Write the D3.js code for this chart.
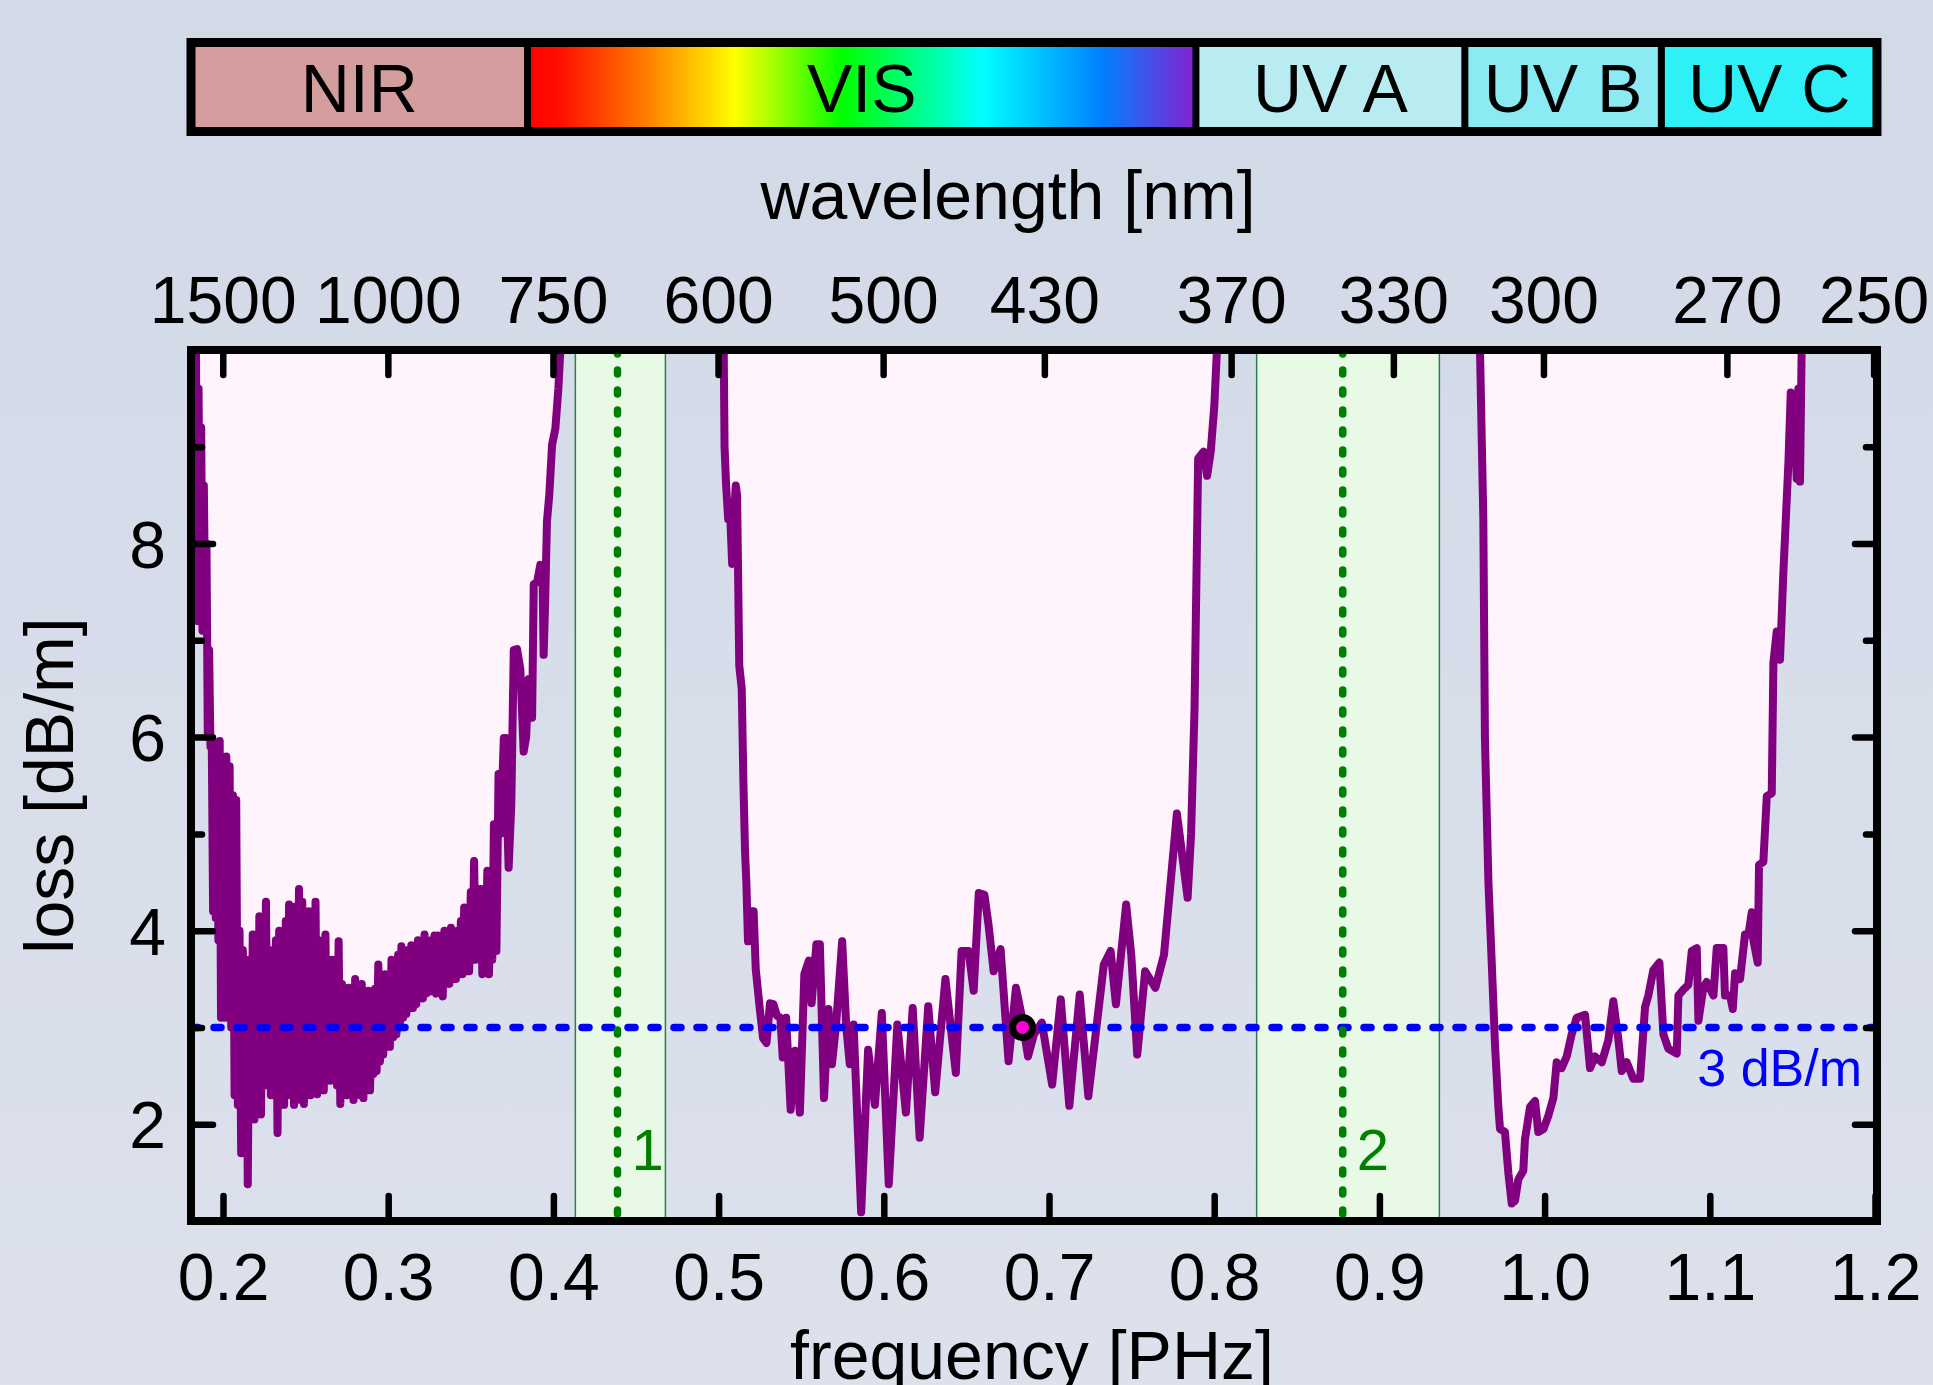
<!DOCTYPE html>
<html>
<head>
<meta charset="utf-8">
<script src="https://cdn.jsdelivr.net/npm/d3@7"></script>
<style>
html, body { margin: 0; padding: 0; }
body { width: 1933px; height: 1385px; overflow: hidden; }
</style>
</head>
<body>
<div id="viz"></div>
<script>
// loss spectrum, three transmission bands: [frequency PHz, loss dB/m]
var nirBand = [
 [0.1820,10.6],[0.1828,7.8],[0.1836,10.2],[0.1844,7.2],[0.1852,9.6],[0.1860,7.5],
 [0.1868,9.2],[0.1876,7.1],[0.1884,8.6],[0.1892,7.3],[0.1900,8.0],[0.1908,6.0],
 [0.1916,6.9],[0.1924,5.9],[0.1932,5.96],[0.1940,4.2],[0.1948,5.9],[0.1956,4.13],
 [0.1964,5.8],[0.1972,3.9],[0.1980,5.96],[0.1988,3.1],
 [0.200,5.0],[0.201,3.1],[0.202,5.8],[0.203,3.2],[0.204,5.7],[0.205,3.0],
 [0.206,5.4],[0.207,2.3],[0.208,5.35],[0.209,2.2],[0.210,4.0],[0.211,1.7],
 [0.212,3.8],[0.213,2.5],[0.214,3.7],[0.215,1.38],[0.216,3.6],[0.217,2.1],
 [0.218,3.96],[0.219,2.05],[0.220,3.9],[0.221,2.3],[0.222,4.15],[0.223,2.1],
 [0.224,3.9],[0.225,2.5],[0.226,4.3],[0.227,2.4],[0.228,3.8],[0.229,2.3],
 [0.230,3.7],[0.231,2.45],[0.232,3.9],[0.233,1.91],[0.234,4.0],[0.235,2.3],
 [0.236,3.9],[0.237,2.2],[0.238,4.1],[0.239,2.4],[0.240,4.27],[0.241,2.3],
 [0.242,4.0],[0.243,2.2],[0.244,4.25],[0.245,2.45],[0.246,4.43],[0.247,2.25],
 [0.248,4.3],[0.249,2.21],[0.250,4.1],[0.251,2.4],[0.252,4.2],[0.253,2.3],
 [0.254,4.0],[0.255,2.5],[0.256,4.3],[0.257,2.31],[0.258,3.9],[0.259,2.45],
 [0.260,3.8],[0.261,2.35],[0.262,3.96],[0.263,2.5],[0.264,3.6],[0.265,2.45],
 [0.266,3.7],[0.267,2.5],[0.268,3.5],[0.269,2.4],[0.270,3.89],[0.271,2.21],
 [0.272,3.45],[0.273,2.45],[0.274,3.3],[0.275,2.3],[0.276,3.41],[0.277,2.35],
 [0.278,3.3],[0.279,2.25],[0.280,3.5],[0.281,2.4],[0.282,3.35],[0.283,2.3],
 [0.284,3.45],[0.285,2.27],[0.286,3.3],[0.287,2.4],[0.288,3.38],[0.289,2.35],
 [0.290,3.25],[0.291,2.52],[0.292,3.4],[0.293,2.55],[0.294,3.65],[0.295,2.65],
 [0.296,3.4],[0.297,2.72],[0.298,3.55],[0.299,2.8],[0.300,3.5],[0.301,2.8],
 [0.302,3.7],[0.303,2.9],[0.304,3.6],[0.305,2.93],[0.306,3.75],[0.307,3.0],
 [0.308,3.84],[0.309,3.1],[0.310,3.7],[0.311,3.14],[0.312,3.8],[0.313,3.2],
 [0.314,3.85],[0.315,3.2],[0.316,3.7],[0.317,3.24],[0.318,3.9],[0.319,3.3],
 [0.320,3.85],[0.321,3.3],[0.322,3.96],[0.323,3.35],[0.324,3.85],[0.325,3.37],
 [0.326,3.9],[0.327,3.4],[0.328,3.95],[0.329,3.35],[0.330,3.95],[0.331,3.4],
 [0.332,3.9],[0.333,3.32],[0.334,4.0],[0.335,3.45],[0.336,3.95],[0.337,3.45],
 [0.338,4.03],[0.339,3.5],[0.340,3.95],[0.341,3.5],[0.342,4.0],[0.343,3.55],
 [0.344,4.1],[0.345,3.55],[0.346,4.24],[0.347,3.6],[0.348,4.1],[0.349,3.58],
 [0.350,4.4],[0.351,3.7],[0.352,4.72],[0.353,3.7],[0.354,4.3],[0.355,3.75],
 [0.356,4.43],[0.357,3.55],[0.358,4.1],[0.359,3.6],[0.360,4.62],[0.361,3.55],
 [0.362,4.5],[0.363,3.7],[0.364,5.1],[0.3655,3.79],
 [0.3668,5.62],[0.3680,5.0],[0.3692,5.6],[0.3700,5.99],[0.3712,5.99],[0.3720,5.2],
 [0.3729,4.65],[0.3745,5.3],[0.3760,6.9],[0.3780,6.91],[0.3800,6.7],[0.3820,5.85],
 [0.3835,6.0],[0.3850,6.6],[0.3860,6.6],[0.3871,6.2],[0.3881,7.58],[0.3901,7.6],
 [0.3921,7.78],[0.3935,7.6],[0.3941,6.85],[0.3950,7.4],[0.3961,8.23],[0.3975,8.5],
 [0.3992,9.02],[0.4012,9.19],[0.4030,9.6],[0.4045,10.1],[0.4065,10.6]
];

var visBand = [
 [0.5028,10.6],[0.5036,9.0],[0.5045,8.62],[0.5058,8.25],[0.5070,8.3],[0.5082,7.79],
 [0.5094,8.3],[0.5104,8.6],[0.5112,8.5],[0.5125,6.74],[0.5140,6.5],[0.5150,5.55],
 [0.5160,4.82],[0.5168,4.5],[0.5178,3.89],[0.5195,4.2],[0.5212,4.2],[0.5225,3.6],
 [0.5249,3.20],[0.5269,2.89],[0.5290,2.84],[0.5311,3.25],[0.5332,3.24],[0.5353,3.12],
 [0.5374,3.10],[0.5388,2.69],[0.5409,3.10],[0.5436,2.15],[0.5463,2.76],[0.5492,2.12],
 [0.5519,3.55],[0.5546,3.69],[0.5563,3.25],[0.5592,3.86],[0.5613,3.86],[0.5638,2.27],
 [0.5665,3.19],[0.5686,2.62],[0.5711,3.03],[0.5748,3.89],[0.5773,3.00],[0.5794,2.62],
 [0.5817,3.03],[0.5863,1.09],[0.5905,2.77],[0.5946,2.20],[0.5988,3.15],[0.6030,1.38],
 [0.6082,3.03],[0.6134,2.12],[0.6175,3.20],[0.6217,1.86],[0.6269,3.22],[0.6311,2.33],
 [0.6373,3.50],[0.6436,2.53],[0.6471,3.79],[0.6513,3.79],[0.6544,3.38],[0.6575,4.39],
 [0.6609,4.37],[0.6634,4.06],[0.6665,3.58],[0.6707,3.81],[0.6755,2.65],[0.6800,3.41],
 [0.6832,3.14],[0.6873,2.70],[0.6909,2.93],[0.6957,3.05],[0.7019,2.41],[0.7071,3.29],
 [0.7123,2.19],[0.7186,3.34],[0.7238,2.29],[0.7332,3.65],[0.7373,3.79],[0.7405,3.24],
 [0.7467,4.27],[0.7498,3.75],[0.7534,2.72],[0.7582,3.58],[0.7644,3.41],[0.7696,3.75],
 [0.7748,4.72],[0.7774,5.21],[0.7790,5.0],[0.7839,4.34],[0.7860,5.0],[0.7881,6.3],
 [0.7903,8.88],[0.7936,8.95],[0.7957,8.7],[0.7979,8.95],[0.8001,9.43],[0.8022,10.2],
 [0.8040,10.8]
];

var uvBand = [
 [0.9595,10.6],[0.9609,9.99],[0.9629,8.26],[0.9639,5.97],[0.9660,4.5],[0.9680,3.67],
 [0.9700,2.81],[0.9720,2.18],[0.9730,1.95],[0.9760,1.92],[0.9781,1.49],[0.9801,1.18],
 [0.9821,1.21],[0.9841,1.43],[0.9871,1.52],[0.9881,1.84],[0.9912,2.18],[0.9942,2.24],
 [0.9962,1.92],[0.9993,1.95],[1.0023,2.09],[1.0053,2.27],[1.0073,2.64],[1.0103,2.58],
 [1.0134,2.70],[1.0164,2.93],[1.0194,3.10],[1.0245,3.13],[1.0275,2.58],[1.0305,2.70],
 [1.0346,2.64],[1.0386,2.87],[1.0416,3.27],[1.0447,2.87],[1.0467,2.55],[1.0497,2.64],
 [1.0537,2.47],[1.0578,2.47],[1.0608,3.21],[1.0628,3.33],[1.0658,3.59],[1.0695,3.67],
 [1.0719,2.93],[1.0749,2.78],[1.0800,2.73],[1.0810,3.33],[1.0840,3.39],[1.0870,3.44],
 [1.0891,3.79],[1.0921,3.82],[1.0931,3.07],[1.0961,3.41],[1.0981,3.47],[1.1022,3.33],
 [1.1042,3.82],[1.1082,3.82],[1.1092,3.33],[1.1123,3.33],[1.1139,3.19],[1.1153,3.56],
 [1.1183,3.50],[1.1213,3.96],[1.1234,3.96],[1.1254,4.19],[1.1264,3.9],[1.1290,3.67],
 [1.1298,4.68],[1.1324,4.71],[1.1345,5.39],[1.1375,5.42],[1.1385,6.77],[1.1405,7.09],
 [1.1425,6.80],[1.1445,7.69],[1.1476,8.84],[1.1490,9.56],[1.1500,9.0],[1.1510,9.5],
 [1.1526,8.67],[1.1536,9.6],[1.1546,8.64],[1.1556,10.0],[1.1566,10.6]
];

// pump / pulse windows (frequency PHz)
var windows = [[0.4133, 0.4678], [0.8257, 0.9363]];
var windowCenters = [0.4388, 0.8778];
var windowLabels = ["1", "2"];

var lossLimit = 3;
var marker = [0.684, 3.0];

// axis ticks
var freqTicks = [0.2, 0.3, 0.4, 0.5, 0.6, 0.7, 0.8, 0.9, 1.0, 1.1, 1.2];
var wavelengthTicks = [1500, 1000, 750, 600, 500, 430, 370, 330, 300, 270, 250];
var lossTicks = [2, 3, 4, 5, 6, 7, 8, 9];

// spectral regions bar
var regionNames = ["NIR", "VIS", "UV A", "UV B", "UV C"];
var regionEdgesNm = [780, 380, 315, 280];
var regionColors = ["#d49e9e", "url(#visGrad)", "#b8ecf0", "#8ceaf2", "#2ef0f6"];
var visStops = [[0, "#ff0000"], [0.05, "#ff1000"], [0.18, "#ff8000"], [0.31, "#ffff00"],
  [0.47, "#00ff00"], [0.68, "#00ffff"], [0.86, "#0080ff"], [1, "#8420d0"]];

var C = 299.792458; // nm * PHz
var FONT = '"Liberation Sans", Arial, sans-serif';

var w = 1933, h = 1385;
var pLeft = 191, pRight = 1877, pTop = 350, pBottom = 1221;

var svg = d3.select("#viz").append("svg")
    .attr("width", w)
    .attr("height", h);

var defs = svg.append("defs");
var bg = defs.append("linearGradient").attr("id", "bgGrad")
    .attr("x1", 0).attr("y1", 0).attr("x2", 0).attr("y2", 1);
bg.append("stop").attr("offset", "0%").attr("stop-color", "#d2d9e7");
bg.append("stop").attr("offset", "100%").attr("stop-color", "#dce1ec");

var vg = defs.append("linearGradient").attr("id", "visGrad")
    .attr("x1", 0).attr("y1", 0).attr("x2", 1).attr("y2", 0);
visStops.forEach(function(s) {
  vg.append("stop").attr("offset", s[0]).attr("stop-color", s[1]);
});

defs.append("clipPath").attr("id", "plotClip")
  .append("rect")
    .attr("x", pLeft).attr("y", pTop)
    .attr("width", pRight - pLeft).attr("height", pBottom - pTop);

svg.append("rect").attr("width", w).attr("height", h).attr("fill", "url(#bgGrad)");

var x = d3.scaleLinear().domain([0.2, 1.2]).range([223, 1875]);
var y = d3.scaleLinear().domain([1, 10]).range([1221, 350]);

var plot = svg.append("g").attr("clip-path", "url(#plotClip)");

// green windows
plot.selectAll(".win").data(windows).enter().append("rect")
    .attr("class", "win")
    .attr("x", function(d) { return x(d[0]); })
    .attr("y", pTop)
    .attr("width", function(d) { return x(d[1]) - x(d[0]); })
    .attr("height", pBottom - pTop)
    .style("fill", "#e8fae6")
    .style("stroke", "#2e7d4e")
    .style("stroke-width", 1.5);

var bands = [nirBand, visBand, uvBand];

var area = d3.area()
    .x(function(d) { return x(d[0]); })
    .y0(y(10.8))
    .y1(function(d) { return y(d[1]); });

var line = d3.line()
    .x(function(d) { return x(d[0]); })
    .y(function(d) { return y(d[1]); });

plot.selectAll(".fillband").data(bands).enter().append("path")
    .attr("class", "fillband")
    .attr("d", area)
    .style("fill", "#fff4fb");

plot.selectAll(".lossline").data(bands).enter().append("path")
    .attr("class", "lossline")
    .attr("d", line)
    .style("fill", "none")
    .style("stroke", "#800080")
    .style("stroke-width", 8)
    .style("stroke-linejoin", "round");

// 3 dB/m limit
plot.append("line")
    .attr("x1", pLeft).attr("x2", pRight)
    .attr("y1", y(lossLimit)).attr("y2", y(lossLimit))
    .style("stroke", "#0000ff")
    .style("stroke-width", 7.5)
    .style("stroke-dasharray", "7,16")
    .style("stroke-linecap", "round");

plot.selectAll(".wincenter").data(windowCenters).enter().append("line")
    .attr("class", "wincenter")
    .attr("x1", function(d) { return x(d); })
    .attr("x2", function(d) { return x(d); })
    .attr("y1", pTop).attr("y2", pBottom)
    .style("stroke", "#008000")
    .style("stroke-width", 7.5)
    .style("stroke-dasharray", "4,16")
    .style("stroke-linecap", "round");

svg.selectAll(".winlabel").data(windowCenters).enter().append("text")
    .attr("class", "winlabel")
    .attr("x", function(d) { return x(d) + 14; })
    .attr("y", 1170)
    .attr("font-family", FONT)
    .attr("font-size", 58)
    .attr("fill", "#008000")
    .text(function(d, i) { return windowLabels[i]; });

svg.append("text")
    .attr("x", 1862).attr("y", 1086)
    .attr("text-anchor", "end")
    .attr("font-family", FONT)
    .attr("font-size", 52)
    .attr("fill", "#0000ff")
    .text(lossLimit + " dB/m");

svg.append("circle")
    .attr("cx", x(marker[0]))
    .attr("cy", y(marker[1]))
    .attr("r", 10)
    .style("fill", "#ff00d4")
    .style("stroke", "#000")
    .style("stroke-width", 7);

// frame
svg.append("rect")
    .attr("x", pLeft).attr("y", pTop)
    .attr("width", pRight - pLeft).attr("height", pBottom - pTop)
    .style("fill", "none")
    .style("stroke", "#000")
    .style("stroke-width", 8);

function styleTicks(g) {
  g.select(".domain").remove();
  g.attr("font-family", FONT).attr("font-size", 66);
  g.selectAll(".tick line")
      .attr("stroke", "#000")
      .attr("stroke-width", 6.5)
      .attr("stroke-linecap", "round");
  g.selectAll(".tick text").attr("fill", "#000");
}

var gxb = svg.append("g")
    .attr("transform", "translate(0," + pBottom + ")")
    .call(d3.axisBottom(x).tickValues(freqTicks).tickFormat(d3.format(".1f"))
      .tickSizeInner(-25).tickSizeOuter(0));
styleTicks(gxb);
gxb.selectAll(".tick text").attr("y", 79).attr("dy", 0);

var gxt = svg.append("g")
    .attr("transform", "translate(0," + pTop + ")")
    .call(d3.axisTop(x).tickValues(wavelengthTicks.map(function(l) { return C / l; }))
      .tickFormat(function(d) { return Math.round(C / d); })
      .tickSizeInner(-25).tickSizeOuter(0));
styleTicks(gxt);
gxt.selectAll(".tick text").attr("y", -27).attr("dy", 0);

var gyl = svg.append("g")
    .attr("transform", "translate(" + pLeft + ",0)")
    .call(d3.axisLeft(y).tickValues(lossTicks)
      .tickFormat(function(d) { return d % 2 === 0 ? d : ""; })
      .tickSizeInner(-22).tickSizeOuter(0));
styleTicks(gyl);
gyl.selectAll(".tick line").attr("x2", function(d) { return d % 2 === 0 ? 22 : 11; });
gyl.selectAll(".tick text").attr("x", -25).attr("dy", "0.36em");

var gyr = svg.append("g")
    .attr("transform", "translate(" + pRight + ",0)")
    .call(d3.axisRight(y).tickValues(lossTicks).tickFormat("")
      .tickSizeInner(-22).tickSizeOuter(0));
styleTicks(gyr);
gyr.selectAll(".tick line").attr("x2", function(d) { return d % 2 === 0 ? -22 : -11; });

// axis titles
svg.append("text")
    .attr("x", 1032).attr("y", 1379)
    .attr("text-anchor", "middle")
    .attr("font-family", FONT).attr("font-size", 68)
    .text("frequency [PHz]");

svg.append("text")
    .attr("x", 1008).attr("y", 219)
    .attr("text-anchor", "middle")
    .attr("font-family", FONT).attr("font-size", 68)
    .text("wavelength [nm]");

svg.append("text")
    .attr("transform", "translate(73," + (pTop + pBottom) / 2 + ") rotate(-90)")
    .attr("text-anchor", "middle")
    .attr("font-family", FONT).attr("font-size", 68)
    .text("loss [dB/m]");

// spectral region bar
var edgesF = [x.invert(pLeft)].concat(regionEdgesNm.map(function(l) { return C / l; }), [x.invert(pRight)]);
var barTop = 42.5, barBottom = 131.5;
var bar = svg.append("g");

regionNames.forEach(function(name, i) {
  var x0 = x(edgesF[i]), x1 = x(edgesF[i + 1]);
  bar.append("rect")
      .attr("x", x0).attr("y", barTop)
      .attr("width", x1 - x0).attr("height", barBottom - barTop)
      .style("fill", regionColors[i]);
  bar.append("text")
      .attr("x", (x0 + x1) / 2).attr("y", 112)
      .attr("text-anchor", "middle")
      .attr("font-family", FONT).attr("font-size", 68)
      .attr("fill", "#000")
      .text(name);
});

bar.selectAll(".divider").data(regionEdgesNm).enter().append("line")
    .attr("x1", function(d) { return x(C / d); })
    .attr("x2", function(d) { return x(C / d); })
    .attr("y1", barTop).attr("y2", barBottom)
    .style("stroke", "#000").style("stroke-width", 7);

bar.append("rect")
    .attr("x", pLeft).attr("y", barTop)
    .attr("width", pRight - pLeft).attr("height", barBottom - barTop)
    .style("fill", "none")
    .style("stroke", "#000")
    .style("stroke-width", 9);
</script>
</body>
</html>
